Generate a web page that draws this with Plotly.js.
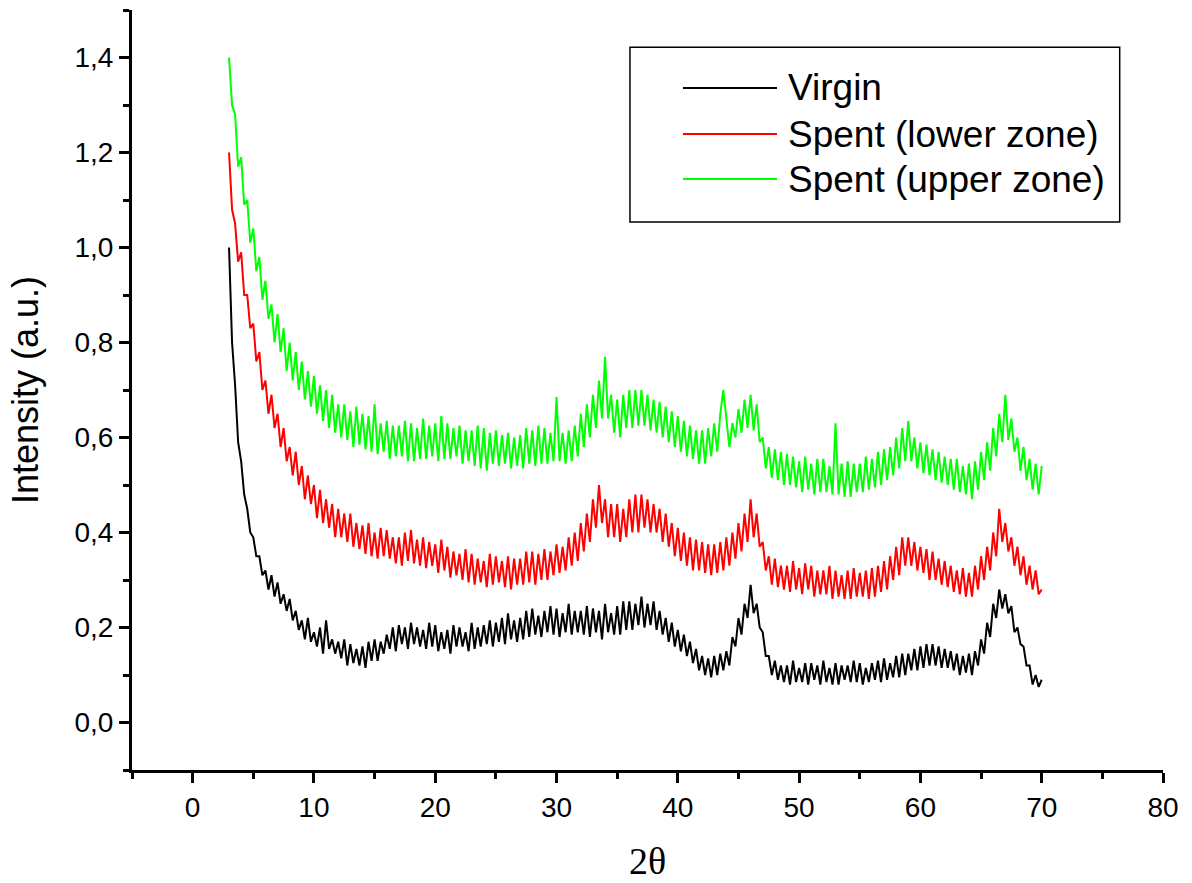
<!DOCTYPE html>
<html>
<head>
<meta charset="utf-8">
<script src="https://cdn.plot.ly/plotly-3.0.1.min.js"></script>
<style>html,body{margin:0;padding:0;background:#fff;}</style>
</head>
<body>
<div id="chart" style="width:1192px;height:883px;"></div>
<script>
// ---- data ----
const seriesNames = ['Virgin', 'Spent (lower zone)', 'Spent (upper zone)'];
const seriesColors = ['#000000', '#ff0000', '#00ff00'];
const thetaStart = 3;      // first 2θ sample
const thetaStep = 0.25;    // sampling of the read values (alternating local max / min)

const virgin = [
1.00,0.80,0.71,0.59,
0.55,0.48,0.45,0.40,
0.39,0.35,0.35,0.31,
0.32,0.28,0.31,0.265,
0.295,0.25,0.27,0.235,
0.26,0.215,0.235,0.195,
0.215,0.175,0.22,0.17,
0.19,0.16,0.20,0.145,
0.215,0.155,0.175,0.145,
0.17,0.135,0.175,0.12,
0.165,0.125,0.155,0.12,
0.16,0.115,0.17,0.13,
0.175,0.13,0.17,0.145,
0.185,0.155,0.20,0.15,
0.205,0.165,0.20,0.155,
0.21,0.165,0.20,0.16,
0.195,0.155,0.21,0.16,
0.205,0.15,0.19,0.155,
0.195,0.145,0.205,0.16,
0.20,0.16,0.19,0.15,
0.21,0.155,0.20,0.16,
0.205,0.165,0.215,0.16,
0.21,0.17,0.22,0.165,
0.23,0.175,0.215,0.17,
0.22,0.175,0.235,0.18,
0.24,0.185,0.225,0.18,
0.235,0.19,0.245,0.185,
0.24,0.18,0.23,0.19,
0.25,0.185,0.235,0.19,
0.235,0.185,0.245,0.18,
0.24,0.19,0.235,0.175,
0.25,0.19,0.23,0.185,
0.245,0.185,0.255,0.195,
0.255,0.195,0.25,0.205,
0.265,0.20,0.25,0.205,
0.255,0.195,0.235,0.185,
0.22,0.17,0.21,0.16,
0.195,0.15,0.185,0.14,
0.17,0.125,0.155,0.11,
0.14,0.10,0.135,0.095,
0.14,0.10,0.145,0.11,
0.15,0.12,0.18,0.16,
0.22,0.185,0.25,0.22,
0.29,0.23,0.25,0.20,
0.19,0.14,0.14,0.10,
0.13,0.09,0.12,0.085,
0.12,0.08,0.13,0.085,
0.115,0.085,0.125,0.08,
0.125,0.09,0.12,0.08,
0.13,0.085,0.115,0.08,
0.125,0.08,0.12,0.09,
0.12,0.085,0.13,0.085,
0.125,0.08,0.115,0.085,
0.125,0.09,0.13,0.085,
0.135,0.09,0.125,0.095,
0.14,0.095,0.145,0.10,
0.145,0.11,0.155,0.11,
0.16,0.115,0.165,0.12,
0.165,0.12,0.16,0.115,
0.155,0.115,0.15,0.11,
0.145,0.10,0.14,0.105,
0.145,0.10,0.15,0.12,
0.175,0.145,0.21,0.18,
0.25,0.22,0.28,0.24,
0.27,0.23,0.245,0.19,
0.20,0.165,0.16,0.12,
0.12,0.08,0.10,0.075,
0.09
];

const spentLower = [
1.20,1.08,1.05,0.97,
0.99,0.90,0.90,0.83,
0.84,0.76,0.78,0.70,
0.72,0.65,0.69,0.62,
0.65,0.58,0.62,0.55,
0.58,0.52,0.57,0.50,
0.54,0.47,0.52,0.46,
0.50,0.43,0.49,0.42,
0.47,0.41,0.46,0.39,
0.45,0.39,0.44,0.38,
0.44,0.37,0.42,0.365,
0.415,0.355,0.42,0.35,
0.40,0.345,0.41,0.35,
0.405,0.345,0.39,0.335,
0.39,0.33,0.40,0.34,
0.405,0.335,0.385,0.33,
0.39,0.325,0.38,0.33,
0.375,0.315,0.385,0.32,
0.37,0.305,0.36,0.31,
0.355,0.30,0.365,0.295,
0.355,0.29,0.345,0.295,
0.34,0.285,0.355,0.29,
0.35,0.295,0.34,0.285,
0.35,0.28,0.345,0.29,
0.345,0.29,0.36,0.295,
0.36,0.29,0.355,0.30,
0.365,0.30,0.36,0.31,
0.375,0.315,0.37,0.32,
0.39,0.33,0.40,0.34,
0.42,0.36,0.44,0.38,
0.47,0.41,0.50,0.42,
0.47,0.39,0.46,0.39,
0.46,0.38,0.45,0.39,
0.47,0.40,0.48,0.40,
0.48,0.41,0.47,0.40,
0.46,0.40,0.45,0.38,
0.44,0.37,0.42,0.35,
0.41,0.34,0.40,0.33,
0.39,0.32,0.385,0.32,
0.38,0.315,0.375,0.31,
0.375,0.315,0.38,0.32,
0.39,0.33,0.40,0.345,
0.42,0.36,0.44,0.38,
0.47,0.39,0.44,0.37,
0.38,0.32,0.35,0.29,
0.345,0.285,0.33,0.28,
0.33,0.275,0.34,0.28,
0.325,0.27,0.335,0.28,
0.33,0.265,0.32,0.27,
0.32,0.27,0.33,0.26,
0.32,0.265,0.31,0.26,
0.32,0.26,0.325,0.265,
0.315,0.265,0.32,0.26,
0.325,0.265,0.33,0.275,
0.34,0.28,0.35,0.30,
0.37,0.31,0.39,0.33,
0.39,0.33,0.38,0.32,
0.37,0.315,0.365,0.30,
0.36,0.30,0.345,0.29,
0.34,0.285,0.33,0.275,
0.32,0.27,0.325,0.265,
0.315,0.265,0.33,0.28,
0.35,0.30,0.37,0.32,
0.40,0.35,0.45,0.38,
0.42,0.36,0.39,0.33,
0.37,0.31,0.35,0.29,
0.33,0.28,0.32,0.27,
0.28
];

const spentUpper = [
1.40,1.30,1.28,1.17,
1.19,1.09,1.10,1.01,
1.04,0.95,0.98,0.89,
0.93,0.85,0.88,0.80,
0.86,0.78,0.83,0.74,
0.80,0.72,0.78,0.70,
0.76,0.68,0.74,0.665,
0.73,0.65,0.71,0.635,
0.70,0.62,0.69,0.61,
0.67,0.60,0.67,0.595,
0.655,0.58,0.665,0.585,
0.65,0.575,0.645,0.57,
0.67,0.565,0.63,0.57,
0.635,0.555,0.625,0.56,
0.625,0.56,0.635,0.55,
0.63,0.55,0.62,0.555,
0.64,0.555,0.625,0.56,
0.63,0.55,0.645,0.555,
0.63,0.555,0.62,0.56,
0.625,0.545,0.615,0.55,
0.615,0.54,0.625,0.535,
0.62,0.53,0.61,0.545,
0.615,0.54,0.605,0.545,
0.61,0.535,0.60,0.54,
0.605,0.535,0.62,0.545,
0.615,0.54,0.625,0.545,
0.62,0.545,0.61,0.55,
0.685,0.55,0.61,0.545,
0.615,0.55,0.625,0.56,
0.65,0.58,0.67,0.60,
0.69,0.62,0.72,0.64,
0.77,0.64,0.69,0.61,
0.68,0.60,0.69,0.62,
0.70,0.62,0.70,0.625,
0.70,0.625,0.69,0.615,
0.68,0.61,0.675,0.60,
0.665,0.59,0.655,0.58,
0.645,0.57,0.635,0.56,
0.625,0.555,0.615,0.545,
0.615,0.545,0.62,0.56,
0.63,0.57,0.65,0.70,
0.64,0.58,0.63,0.60,
0.66,0.61,0.68,0.62,
0.69,0.615,0.67,0.59,
0.60,0.535,0.58,0.515,
0.575,0.51,0.57,0.50,
0.565,0.50,0.56,0.495,
0.55,0.485,0.56,0.49,
0.545,0.48,0.555,0.485,
0.555,0.485,0.54,0.48,
0.63,0.48,0.545,0.475,
0.55,0.475,0.545,0.485,
0.545,0.485,0.56,0.49,
0.555,0.495,0.57,0.50,
0.575,0.51,0.58,0.52,
0.60,0.535,0.62,0.55,
0.635,0.55,0.60,0.535,
0.59,0.525,0.585,0.52,
0.575,0.51,0.57,0.505,
0.56,0.50,0.555,0.49,
0.555,0.485,0.54,0.48,
0.545,0.47,0.55,0.49,
0.57,0.51,0.59,0.53,
0.62,0.56,0.65,0.59,
0.69,0.595,0.64,0.57,
0.60,0.53,0.58,0.51,
0.555,0.49,0.545,0.48,
0.54
];

const seriesValues = [virgin, spentLower, spentUpper];

// ---- traces ----
const traces = seriesValues.map((vals, k) => ({
  type: 'scatter',
  mode: 'lines',
  name: seriesNames[k],
  x: vals.map((_, i) => thetaStart + i * thetaStep),
  y: vals,
  line: { color: seriesColors[k], width: 2 },
  showlegend: false,
  hoverinfo: 'x+y+name'
}));

// ---- hand-drawn legend box (Origin style) ----
const legendRowsY = [0.8974, 0.8368, 0.7776];
const shapes = [{
  type: 'rect', xref: 'paper', yref: 'paper',
  x0: 0.483, x1: 0.958, y0: 0.721, y1: 0.951,
  line: { color: '#000', width: 1.5 }, fillcolor: 'rgba(0,0,0,0)'
}];
const annotations = [];
seriesNames.forEach((nm, k) => {
  shapes.push({
    type: 'line', xref: 'paper', yref: 'paper',
    x0: 0.5344, x1: 0.6256, y0: legendRowsY[k], y1: legendRowsY[k],
    line: { color: seriesColors[k], width: 2 }
  });
  annotations.push({
    xref: 'paper', yref: 'paper', x: 0.6345, y: legendRowsY[k],
    xanchor: 'left', yanchor: 'middle', showarrow: false,
    text: nm, font: { family: 'Liberation Sans, Arial, sans-serif', size: 37, color: '#000' }
  });
});

const tickFont = { family: 'Liberation Sans, Arial, sans-serif', size: 28, color: '#000' };

const layout = {
  width: 1192, height: 883,
  margin: { l: 132, r: 29, t: 10, b: 113, pad: 0 },
  paper_bgcolor: '#fff', plot_bgcolor: '#fff',
  separators: ',.',
  showlegend: false,
  xaxis: {
    range: [-5, 80], tickmode: 'linear', tick0: 0, dtick: 10,
    ticks: 'outside', ticklen: 10, tickwidth: 3, tickcolor: '#000',
    showline: true, linewidth: 3, linecolor: '#000', mirror: false,
    showgrid: false, zeroline: false,
    minor: { tick0: 0, dtick: 5, ticks: 'outside', ticklen: 6, tickwidth: 3, tickcolor: '#000', showgrid: false },
    tickfont: tickFont,
    title: { text: '2θ', font: { family: 'Liberation Serif, Times New Roman, serif', size: 38, color: '#000' }, standoff: 26 }
  },
  yaxis: {
    range: [-0.1, 1.5], tickmode: 'linear', tick0: 0, dtick: 0.2, tickformat: '.1f',
    ticks: 'outside', ticklen: 10, tickwidth: 3, tickcolor: '#000',
    showline: true, linewidth: 3, linecolor: '#000', mirror: false,
    showgrid: false, zeroline: false,
    minor: { tick0: 0, dtick: 0.1, ticks: 'outside', ticklen: 6, tickwidth: 3, tickcolor: '#000', showgrid: false },
    tickfont: tickFont,
    title: { text: 'Intensity (a.u.)', font: { family: 'Liberation Sans, Arial, sans-serif', size: 36, color: '#000' }, standoff: 25 }
  },
  shapes: shapes,
  annotations: annotations
};

Plotly.newPlot('chart', traces, layout, { displayModeBar: false, responsive: false });
</script>
</body>
</html>
